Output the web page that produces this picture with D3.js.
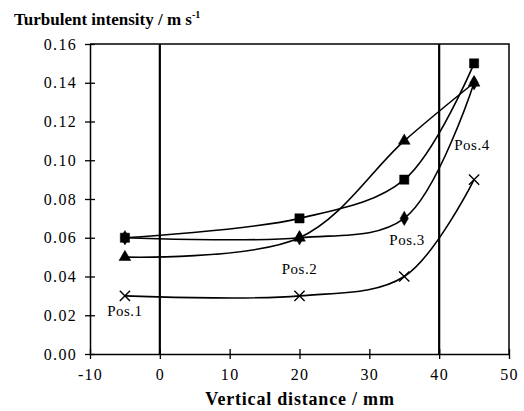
<!DOCTYPE html>
<html lang="en">
<head>
<meta charset="utf-8">
<title>Turbulent intensity vs vertical distance</title>
<script src="https://cdn.jsdelivr.net/npm/d3@7"></script>
<style>
  html, body { margin: 0; padding: 0; background: #fff; }
  text { font-family: "Liberation Serif", "Times New Roman", serif; }
</style>
</head>
<body>
<script>
// data
var distance = [-5, 20, 35, 45];
var pos1 = [0.03, 0.03, 0.04, 0.09];
var pos2 = [0.05, 0.06, 0.11, 0.14];
var pos3 = [0.06, 0.06, 0.07, 0.14];
var pos4 = [0.06, 0.07, 0.09, 0.15];
var seriesNames = ["Pos.1", "Pos.2", "Pos.3", "Pos.4"];
var seriesMarkers = ["cross", "triangle", "diamond", "square"];
var labelX = [-5, 20, 35.4, 44.7];
var labelY = [0.022, 0.044, 0.059, 0.108];
var xTicks = [-10, 0, 10, 20, 30, 40, 50];
var yTicks = [0, 0.02, 0.04, 0.06, 0.08, 0.10, 0.12, 0.14, 0.16];
var refLines = [0, 40];

var w = 524, h = 411;
var svg = d3.select("body").append("svg").attr("width", w).attr("height", h);

var x = d3.scaleLinear().domain([-10, 50]).range([90, 509]);
var y = d3.scaleLinear().domain([0, 0.16]).range([354, 44]);

// frame (top and right)
svg.append("path")
   .attr("d", "M" + x(-10) + "," + y(0.16) + "H" + x(50) + "V" + y(0))
   .attr("fill", "none").attr("stroke", "#000").attr("stroke-width", 1.5);

// vertical reference lines
svg.selectAll("line.ref").data(refLines).enter().append("line")
   .attr("class", "ref")
   .attr("x1", function(d) { return x(d); }).attr("x2", function(d) { return x(d); })
   .attr("y1", y(0.16)).attr("y2", y(0))
   .attr("stroke", "#000").attr("stroke-width", 2.2);

// axes
var xAxis = svg.append("g").attr("transform", "translate(0," + y(0) + ")")
   .call(d3.axisBottom(x).tickValues(xTicks).tickFormat(function(d) { return String(d); })
         .tickSize(5).tickSizeOuter(0).tickPadding(10));
xAxis.selectAll(".tick line").attr("y1", -5);
var yAxis = svg.append("g").attr("transform", "translate(" + x(-10) + ",0)")
   .call(d3.axisLeft(y).tickValues(yTicks).tickFormat(function(d) { return d.toFixed(2); })
         .tickSize(5).tickSizeOuter(0).tickPadding(8));
yAxis.selectAll(".tick line").attr("x1", 5);
[xAxis, yAxis].forEach(function(g) {
  g.select(".domain").attr("stroke-width", 1.5);
  g.selectAll(".tick line").attr("stroke-width", 1.3);
  g.selectAll("text").attr("font-size", "16px").attr("fill", "#000")
   .attr("letter-spacing", "1.3px")
   .style("font-family", "'Liberation Serif', serif");
});

// curves
var allSeries = [pos1, pos2, pos3, pos4];
var line = d3.line()
   .x(function(d, i) { return x(distance[i]); })
   .y(function(d) { return y(d); })
   .curve(d3.curveCatmullRom.alpha(0.5));

svg.selectAll("path.series").data(allSeries).enter().append("path")
   .attr("class", "series")
   .attr("d", line)
   .attr("fill", "none").attr("stroke", "#000").attr("stroke-width", 1.6);

// markers
var sym = {
  square: d3.symbol().type(d3.symbolSquare).size(85),
  triangle: d3.symbol().type(d3.symbolTriangle).size(60),
  diamond: d3.symbol().type(d3.symbolDiamond).size(60),
  cross: d3.symbol().type(d3.symbolX).size(70)
};
allSeries.forEach(function(s, k) {
  var m = seriesMarkers[k];
  svg.selectAll("path.m" + k).data(s).enter().append("path")
     .attr("class", "m" + k)
     .attr("transform", function(d, i) { return "translate(" + x(distance[i]) + "," + y(d) + ")"; })
     .attr("d", sym[m]())
     .attr("fill", m === "cross" ? "none" : "#000")
     .attr("stroke", "#000")
     .attr("stroke-width", m === "cross" ? 1.4 : 0.5);
});

// series labels
svg.selectAll("text.lab").data(seriesNames).enter().append("text")
   .attr("class", "lab")
   .attr("x", function(d, i) { return x(labelX[i]); })
   .attr("y", function(d, i) { return y(labelY[i]); })
   .attr("text-anchor", "middle").attr("dominant-baseline", "central")
   .attr("font-size", "15px").attr("letter-spacing", "0.5px")
   .text(function(d) { return d; });

// titles
var t = svg.append("text").attr("x", 14).attr("y", 25)
   .attr("font-size", "17px").attr("font-weight", "bold");
t.append("tspan").text("Turbulent intensity / m s");
t.append("tspan").attr("dy", -7).attr("font-size", "10px").text("-1");

svg.append("text").attr("x", 300).attr("y", 405)
   .attr("text-anchor", "middle").attr("font-size", "18px").attr("font-weight", "bold")
   .attr("letter-spacing", "0.8px")
   .text("Vertical distance / mm");
</script>
</body>
</html>
